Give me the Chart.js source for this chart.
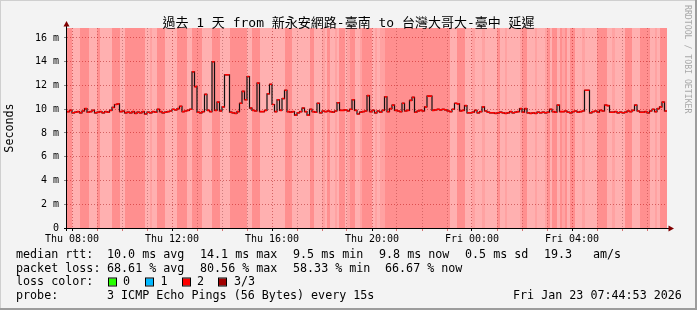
<!DOCTYPE html>
<html>
<head>
<meta charset="utf-8">
<script src="https://cdn.jsdelivr.net/npm/chart.js@4.4.1/dist/chart.umd.min.js"></script>
<style>
  html, body { margin: 0; padding: 0; background: #f3f3f3; }
  canvas { display: block; }
</style>
</head>
<body>
<canvas id="grafico" width="697" height="310"></canvas>
<script>
// --- dados (smokeping, 1 dia) ---
const titulo = '過去 1 天 from 新永安網路-臺南 to 台灣大哥大-臺中 延遲';
const startHour = 7.8;   // Thu 07:48
const stepHours = 0.1;   // uma amostra a cada 6 min

// mediana do rtt em ms, 10 amostras por hora
const medianMs = [
  9.8, 9.9, 9.7, 9.75, 9.8, 9.7, 9.85, 10.05, 9.75, 9.8,
  9.9, 9.7, 9.75, 9.8, 9.7, 9.8, 9.75, 9.9, 10.15, 10.4,
  10.45, 9.8, 9.85, 9.7, 9.75, 9.7, 9.8, 9.65, 9.75, 9.7,
  9.8, 9.6, 9.75, 9.7, 9.8, 9.75, 10.0, 9.8, 9.7, 9.75,
  9.8, 9.85, 10.0, 9.95, 10.05, 10.25, 9.8, 9.85, 9.9, 10.0,
  13.15, 11.9, 9.75, 9.7, 9.8, 11.25, 9.9, 9.8, 14.0, 9.9,
  10.6, 9.85, 10.2, 12.9, 12.9, 9.75, 9.7, 9.65, 9.8, 10.5,
  11.5, 10.8, 12.75, 10.1, 9.9, 9.85, 12.2, 9.8, 9.8, 9.9,
  11.3, 12.1, 10.4, 9.8, 10.8, 9.9, 10.9, 11.6, 9.8, 9.75,
  9.8, 9.5, 9.7, 9.8, 10.1, 9.8, 9.5, 10.0, 9.8, 9.75,
  10.5, 9.7, 9.85, 9.8, 9.85, 9.8, 9.75, 9.85, 10.55, 9.9,
  9.9, 9.95, 9.85, 10.0, 10.8, 9.9, 9.6, 9.75, 9.8, 9.85,
  11.15, 9.8, 9.9, 9.7, 9.85, 9.75, 9.9, 11.05, 9.8, 10.05,
  10.35, 9.9, 9.85, 9.8, 10.5, 9.85, 9.9, 10.75, 11.0, 9.75,
  9.85, 9.9, 9.85, 10.2, 11.1, 11.1, 9.9, 9.95, 10.0, 9.95,
  10.0, 9.95, 9.85, 9.8, 10.0, 10.5, 10.45, 9.85, 9.9, 10.3,
  9.7, 9.7, 9.75, 9.9, 9.7, 9.8, 10.2, 9.85, 9.75, 9.7,
  9.7, 9.65, 9.7, 9.75, 9.7, 9.65, 9.7, 9.8, 9.7, 9.75,
  9.8, 10.05, 9.75, 10.05, 9.7, 9.65, 9.7, 9.65, 9.75, 9.7,
  9.75, 9.7, 9.75, 10.0, 9.8, 9.75, 10.35, 9.8, 9.8, 9.85,
  9.75, 9.7, 9.8, 9.85, 9.75, 9.8, 9.85, 11.6, 11.6, 9.7,
  9.8, 9.85, 9.75, 9.9, 9.85, 10.35, 10.3, 9.75, 9.75, 9.8,
  9.7, 9.75, 9.7, 9.75, 9.85, 9.8, 9.9, 10.35, 9.85, 9.75,
  9.75, 9.8, 9.7, 9.85, 10.0, 9.8, 10.05, 10.2, 10.6, 9.85,
];

// perda de pacotes (%) por amostra, usada no fundo
const lossPct = [
  75, 75, 61, 61, 61, 75, 75, 75, 75, 61,
  61, 61, 75, 61, 61, 61, 61, 61, 75, 75,
  75, 61, 61, 75, 75, 75, 75, 75, 75, 75,
  75, 61, 61, 67, 61, 61, 75, 75, 75, 61,
  61, 61, 61, 61, 75, 75, 75, 75, 61, 61,
  75, 75, 75, 75, 61, 61, 61, 61, 75, 75,
  75, 61, 61, 61, 61, 75, 75, 75, 75, 75,
  75, 75, 61, 61, 75, 75, 75, 61, 61, 61,
  61, 61, 61, 61, 61, 61, 61, 75, 75, 75,
  61, 61, 61, 61, 61, 61, 61, 75, 75, 61,
  61, 61, 67, 61, 75, 61, 61, 67, 61, 75,
  75, 61, 67, 75, 75, 61, 61, 67, 75, 75,
  75, 75, 61, 67, 61, 67, 67, 75, 75, 75,
  75, 75, 75, 75, 75, 75, 75, 75, 75, 75,
  75, 75, 75, 75, 75, 75, 75, 75, 75, 75,
  75, 75, 75, 61, 61, 61, 75, 75, 75, 61,
  61, 61, 67, 61, 61, 61, 67, 61, 61, 61,
  61, 61, 75, 61, 61, 67, 61, 61, 61, 61,
  61, 67, 75, 75, 61, 61, 61, 67, 61, 61,
  61, 67, 75, 61, 75, 75, 61, 75, 67, 75,
  61, 75, 75, 61, 61, 61, 67, 61, 61, 61,
  61, 61, 75, 75, 75, 75, 61, 61, 67, 61,
  61, 61, 61, 75, 75, 75, 61, 61, 61, 75,
  75, 75, 75, 61, 61, 67, 61, 75, 75, 75,
];

const hourTicks = [8, 9, 10, 11, 12, 13, 14, 15, 16, 17, 18, 19, 20, 21, 22, 23, 24, 25, 26, 27, 28, 29, 30, 31];
const labelHours = [8, 12, 16, 20, 24, 28];
const labelTexts = ['Thu 08:00', 'Thu 12:00', 'Thu 16:00', 'Thu 20:00', 'Fri 00:00', 'Fri 04:00'];
const yTicks = [0, 1, 2, 3, 4, 5, 6, 7, 8, 9, 10, 11, 12, 13, 14, 15, 16];
const yLabelValues = [0, 2, 4, 6, 8, 10, 12, 14, 16];
const yLabelTexts = ['0', '2 m', '4 m', '6 m', '8 m', '10 m', '12 m', '14 m', '16 m'];

const legendRtt = ['median rtt:', '10.0 ms avg', '14.1 ms max', '9.5 ms min', '9.8 ms now', '0.5 ms sd', '19.3', 'am/s'];
const legendLoss = ['packet loss:', '68.61 % avg', '80.56 % max', '58.33 % min', '66.67 % now'];
const lossColorLabels = ['0', '1', '2', '3/3'];
const lossColors = ['#26ff00', '#00b8ff', '#ff0000', '#a10000'];
const probeText = ['probe:', '3 ICMP Echo Pings (56 Bytes) every 15s'];
const stamp = 'Fri Jan 23 07:44:53 2026';
const marca = 'RRDTOOL / TOBI OETIKER';

// --- layout ---
const MONO = '"DejaVu Sans Mono", "Noto Sans CJK TC", monospace';
const W = 697, H = 310;
const rttX = [16, 107, 200, 293, 379, 465, 544, 593];
const lossX = [16, 107, 200, 293, 385];
const boxX = [109, 146, 183, 219];
const boxLabelX = [123, 160.5, 197, 234];

const hora = i => startHour + i * stepHours;

const smokeLine = medianMs.map((v, i) => ({ x: hora(i), y: v }));
smokeLine.push({ x: hora(medianMs.length), y: medianMs[medianMs.length - 1] });

const medianSegs = [];
medianMs.forEach((v, i) => {
    medianSegs.push({ x: hora(i), y: v }, { x: hora(i + 1), y: v }, { x: hora(i + 1), y: null });
});

function corPerda(p) {
    const a = 0.31 + (p - 61) * 0.0093;
    return 'rgba(255,0,0,' + a.toFixed(3) + ')';
}

const fundo = {
    id: 'fundo',
    beforeDraw(chart) {
        const { ctx, chartArea: a } = chart;
        ctx.save();
        ctx.fillStyle = '#f3f3f3';
        ctx.fillRect(0, 0, W, H);
        ctx.fillStyle = '#cfcfcf';
        ctx.fillRect(0, 0, W, 1);
        ctx.fillRect(0, 0, 1, H);
        ctx.fillStyle = '#9c9c9c';
        ctx.fillRect(0, H - 2, W, 2);
        ctx.fillRect(W - 2, 0, 2, H);
        ctx.fillStyle = '#ffffff';
        ctx.fillRect(a.left, a.top, a.right - a.left, a.bottom - a.top);
        ctx.restore();
    },
    beforeDatasetsDraw(chart) {
        const { ctx, chartArea: a, scales: { x } } = chart;
        ctx.save();
        lossPct.forEach((p, i) => {
            const x0 = Math.round(x.getPixelForValue(hora(i)));
            const x1 = Math.round(x.getPixelForValue(hora(i + 1)));
            ctx.fillStyle = corPerda(p);
            ctx.fillRect(x0, a.top, x1 - x0, a.bottom - a.top);
        });
        ctx.restore();
    },
    afterDraw(chart) {
        const { ctx, chartArea: a } = chart;
        ctx.save();
        // eixos e setas
        ctx.strokeStyle = '#000';
        ctx.lineWidth = 1;
        ctx.beginPath();
        ctx.moveTo(a.left - 0.5, a.bottom + 3);
        ctx.lineTo(a.left - 0.5, a.top - 3);
        ctx.moveTo(a.left - 3, a.bottom + 0.5);
        ctx.lineTo(a.right + 3, a.bottom + 0.5);
        ctx.stroke();
        ctx.fillStyle = '#800000';
        ctx.beginPath();
        ctx.moveTo(a.left - 0.5, a.top - 7);
        ctx.lineTo(a.left + 2.5, a.top - 1.5);
        ctx.lineTo(a.left - 3.5, a.top - 1.5);
        ctx.fill();
        ctx.beginPath();
        ctx.moveTo(a.right + 7, a.bottom + 0.5);
        ctx.lineTo(a.right + 1.5, a.bottom - 2.5);
        ctx.lineTo(a.right + 1.5, a.bottom + 3.5);
        ctx.fill();

        // título
        ctx.fillStyle = '#000';
        ctx.font = '13px ' + MONO;
        ctx.textAlign = 'center';
        ctx.textBaseline = 'alphabetic';
        ctx.fillText(titulo, 348.5, 26.5);

        // legenda
        ctx.textAlign = 'left';
        ctx.font = '11.7px ' + MONO;
        legendRtt.forEach((t, i) => ctx.fillText(t, rttX[i], 258));
        legendLoss.forEach((t, i) => ctx.fillText(t, lossX[i], 271.7));
        ctx.fillText('loss color:', 16, 285.4);
        lossColors.forEach((c, i) => {
            ctx.fillStyle = c;
            ctx.fillRect(boxX[i], 278.5, 7, 7);
            ctx.strokeStyle = '#000';
            ctx.strokeRect(boxX[i] - 0.5, 278, 8, 8);
            ctx.fillStyle = '#000';
            ctx.fillText(lossColorLabels[i], boxLabelX[i], 285.4);
        });
        ctx.fillText(probeText[0], 16, 299);
        ctx.fillText(probeText[1], 107, 299);
        ctx.fillText(stamp, 513, 299);

        // marca vertical
        ctx.translate(685, 5);
        ctx.rotate(Math.PI / 2);
        ctx.font = '8.2px ' + MONO;
        ctx.fillStyle = '#a8a8a8';
        ctx.fillText(marca, 0, 0);
        ctx.restore();
    }
};

const gradeMaior = 'rgba(130,30,30,0.5)';
const gradeMenor = 'rgba(110,110,110,0.5)';

new Chart(document.getElementById('grafico'), {
    type: 'line',
    data: {
        datasets: [
            // o primeiro dataset fica por cima
            {
                data: medianSegs,
                borderColor: '#ff0000',
                borderWidth: 1.6,
                pointRadius: 0,
                spanGaps: false,
                fill: false,
            },
            {
                data: smokeLine,
                stepped: true,
                borderColor: '#111',
                borderWidth: 1.2,
                pointRadius: 0,
                fill: false,
            },
        ],
    },
    options: {
        responsive: false,
        animation: false,
        events: [],
        layout: { padding: { left: 0, top: 28, right: 30, bottom: 62 } },
        plugins: { legend: { display: false }, tooltip: { enabled: false } },
        scales: {
            x: {
                type: 'linear',
                min: 7.8,
                max: 31.8,
                z: 1,
                afterBuildTicks: s => { s.ticks = hourTicks.map(v => ({ value: v })); },
                afterFit: s => { s.height = 20; },
                grid: {
                    color: c => (labelHours.includes(c.tick && c.tick.value) ? gradeMaior : gradeMenor),
                    tickColor: c => (labelHours.includes(c.tick && c.tick.value) ? '#000' : 'rgba(200,60,60,0.7)'),
                    tickLength: 3,
                },
                border: { display: false, dash: [1, 2] },
                ticks: {
                    autoSkip: false,
                    maxRotation: 0,
                    padding: 2,
                    color: '#000',
                    font: { family: MONO, size: 10 },
                    callback: v => {
                        const k = labelHours.indexOf(v);
                        return k >= 0 ? labelTexts[k] : '';
                    },
                },
            },
            y: {
                min: 0,
                max: 16.84,
                z: 1,
                afterBuildTicks: s => { s.ticks = yTicks.map(v => ({ value: v })); },
                afterFit: s => { s.width = 67; },
                grid: {
                    color: c => (yLabelValues.includes(c.tick && c.tick.value) && c.tick.value > 0 ? gradeMaior : gradeMenor),
                    tickColor: 'rgba(0,0,0,0.45)',
                    tickLength: 3,
                },
                border: { display: false, dash: [1, 2] },
                ticks: {
                    padding: 5,
                    color: '#000',
                    font: { family: MONO, size: 10 },
                    callback: v => {
                        const k = yLabelValues.indexOf(v);
                        return k >= 0 ? yLabelTexts[k] : '';
                    },
                },
                title: {
                    display: true,
                    text: 'Seconds',
                    color: '#000',
                    font: { family: MONO, size: 11.7 },
                    padding: { top: 3, bottom: 0 },
                },
            },
        },
    },
    plugins: [fundo],
});
</script>
</body>
</html>
